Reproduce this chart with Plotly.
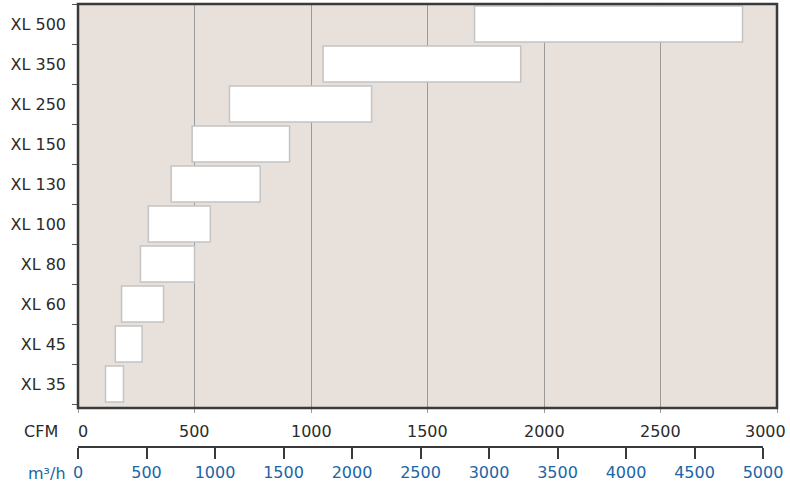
import plotly.graph_objects as go

models = ["XL 35", "XL 45", "XL 60", "XL 80", "XL 100", "XL 130", "XL 150", "XL 250", "XL 350", "XL 500"]
cfm_min = [118, 160, 187, 268, 302, 400, 490, 650, 1052, 1702]
cfm_max = [195, 275, 367, 500, 568, 782, 908, 1260, 1900, 2852]

cfm_ticks = [0, 500, 1000, 1500, 2000, 2500, 3000]
m3h_ticks = [0, 500, 1000, 1500, 2000, 2500, 3000, 3500, 4000, 4500, 5000]

FONT = "DejaVu Sans"
BLUE = "#1c65a6"
DARK = "#2b2b2b"
BG = "#E8E1DB"

widths = [b - a for a, b in zip(cfm_min, cfm_max)]

fig = go.Figure()
fig.add_trace(go.Bar(
    y=models, x=widths, base=cfm_min, orientation="h",
    marker=dict(color="white", line=dict(color="#c4c4c4", width=1.5)),
    hoverinfo="skip", showlegend=False,
))
# invisible helper trace so that the m³/h axis is drawn
fig.add_trace(go.Scatter(
    x=[m3h_ticks[0], m3h_ticks[-1]], y=[models[0], models[0]],
    xaxis="x2", yaxis="y", mode="markers", marker=dict(opacity=0),
    hoverinfo="skip", showlegend=False,
))

annotations = []
for i, t in enumerate(cfm_ticks):
    if i == 0:
        xa, xs = "left", -2
    elif i == len(cfm_ticks) - 1:
        xa, xs = "right", 11
    else:
        xa, xs = "center", 0
    annotations.append(dict(x=t, xref="x", y=0.0584, yref="paper", text=str(t),
                            showarrow=False, xanchor=xa, yanchor="middle", xshift=xs,
                            font=dict(family=FONT, size=16, color=DARK)))
annotations.append(dict(x=-0.0258, xref="paper", y=0.0584, yref="paper", text="CFM",
                        showarrow=False, xanchor="right", yanchor="middle",
                        font=dict(family=FONT, size=16, color=DARK)))
annotations.append(dict(x=-0.0143, xref="paper", y=-0.0341, yref="paper", text="m³/h",
                        showarrow=False, xanchor="right", yanchor="middle",
                        font=dict(family=FONT, size=16, color=BLUE)))

fig.update_layout(
    width=790, height=488,
    margin=dict(l=78, r=13, t=4, b=30, autoexpand=False),
    paper_bgcolor="white",
    plot_bgcolor="rgba(0,0,0,0)",
    bargap=0.1,
    font=dict(family=FONT, size=16, color=DARK),
    xaxis=dict(range=[0, 3000], tickvals=cfm_ticks, showticklabels=False,
               showgrid=True, gridcolor="#9a9a9a", gridwidth=1,
               ticks="outside", ticklen=4, tickcolor="#9a9a9a", tickwidth=1,
               zeroline=False, showline=False, anchor="y", fixedrange=True),
    xaxis2=dict(range=[0, 5000], domain=[0, 685 / 699], anchor="free", position=0.0242,
                tickvals=m3h_ticks, ticktext=[str(v) for v in m3h_ticks],
                showline=True, linecolor="#3a3a3a", linewidth=2,
                ticks="outside", ticklen=11, tickwidth=2, tickcolor="#3a3a3a",
                showgrid=False, zeroline=False,
                tickfont=dict(family=FONT, size=16, color=BLUE), fixedrange=True),
    yaxis=dict(domain=[0.1101, 1], categoryorder="array", categoryarray=models,
               tickson="boundaries", ticks="outside", ticklen=5, tickcolor="#555555",
               ticklabelstandoff=11,
               showgrid=False, zeroline=False, showline=False,
               tickfont=dict(family=FONT, size=16, color=DARK), fixedrange=True),
    annotations=annotations,
    shapes=[
        dict(type="rect", xref="x domain", yref="y domain", x0=0, x1=1, y0=0, y1=1,
             fillcolor=BG, line=dict(width=0), layer="below"),
        dict(type="rect", xref="x domain", yref="y domain", x0=0, x1=1, y0=0, y1=1,
             line=dict(color="#3a3a3a", width=2.5), layer="above"),
    ],
)

fig.write_html("out.html", config={"displayModeBar": False},
               post_script="document.body.style.margin='0';")
